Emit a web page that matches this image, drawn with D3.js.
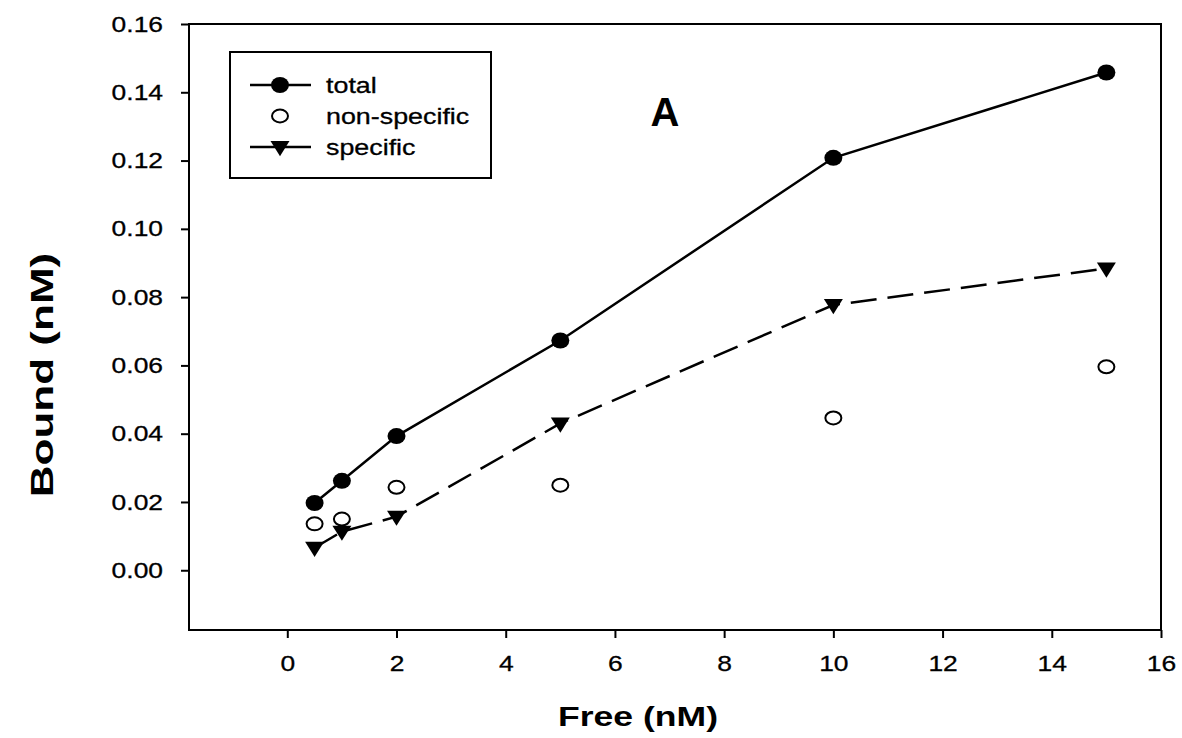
<!DOCTYPE html>
<html>
<head>
<meta charset="utf-8">
<script src="https://cdn.jsdelivr.net/npm/d3@7"></script>
<style>
  html, body { margin: 0; padding: 0; background: #fff; }
  svg text { font-family: "Liberation Sans", Arial, Helvetica, sans-serif; fill: #000; }
</style>
</head>
<body>
<svg id="chart" width="1182" height="738"></svg>
<script>
// Free ligand concentration (nM)
const freeConc = [0.5, 1, 2, 5, 10, 15];
// Bound ligand (nM) for each binding component
const totalBound = [0.0197, 0.0262, 0.0393, 0.0673, 0.1208, 0.1458];
const nonSpecificBound = [0.0136, 0.0150, 0.0243, 0.0249, 0.0446, 0.0596];
const specificBound = [0.0066, 0.0113, 0.0157, 0.0430, 0.0777, 0.0884];

const xTicks = [0, 2, 4, 6, 8, 10, 12, 14, 16];
const yTicks = [0.00, 0.02, 0.04, 0.06, 0.08, 0.10, 0.12, 0.14, 0.16];
const legendLabels = ["total", "non-specific", "specific"];
const panelLabel = "A";
const xTitle = "Free (nM)";
const yTitle = "Bound (nM)";

const svg = d3.select("#chart");
const plot = { left: 189, right: 1161, top: 24, bottom: 630 };

const x = d3.scaleLinear().domain([-1.8, 16]).range([plot.left, plot.right]);
const y = d3.scaleLinear().domain([-0.0175, 0.16]).range([plot.bottom, plot.top]);

// widen glyphs along the text direction, as the printed typeface runs wide
function widen(sel, factor) {
  sel.each(function () {
    const len = this.getComputedTextLength();
    d3.select(this).attr("textLength", len * factor).attr("lengthAdjust", "spacingAndGlyphs");
  });
}

// frame
svg.append("rect")
  .attr("x", plot.left).attr("y", plot.top)
  .attr("width", plot.right - plot.left).attr("height", plot.bottom - plot.top)
  .attr("fill", "none").attr("stroke", "#000").attr("stroke-width", 2);

// axes
const xAxis = svg.append("g")
  .attr("transform", `translate(0,${plot.bottom})`)
  .call(d3.axisBottom(x).tickValues(xTicks).tickFormat(d3.format("d")).tickSize(8).tickPadding(17));
const yAxis = svg.append("g")
  .attr("transform", `translate(${plot.left},0)`)
  .call(d3.axisLeft(y).tickValues(yTicks).tickFormat(d3.format(".2f")).tickSize(8).tickPadding(18));
[xAxis, yAxis].forEach(g => {
  g.select(".domain").remove();
  g.selectAll(".tick line").attr("stroke", "#000").attr("stroke-width", 2);
  g.selectAll(".tick text").attr("font-size", 22).attr("fill", "#000")
    .attr("stroke", "#000").attr("stroke-width", 0.3)
    .style("font-family", "'Liberation Sans', Arial, sans-serif");
  widen(g.selectAll(".tick text"), 1.2);
});

// axis titles
const xt = svg.append("text")
  .attr("x", (plot.left + plot.right) / 2 - 37).attr("y", 726)
  .attr("text-anchor", "middle").attr("font-size", 28).attr("font-weight", "bold")
  .text(xTitle);
widen(xt, 1.27);
const yt = svg.append("text")
  .attr("transform", `translate(53,375) rotate(-90)`)
  .attr("text-anchor", "middle").attr("font-size", 31).attr("font-weight", "bold")
  .text(yTitle);
widen(yt, 1.42);

// panel label
svg.append("text")
  .attr("x", 665).attr("y", 126).attr("text-anchor", "middle")
  .attr("font-size", 40).attr("font-weight", "bold").text(panelLabel);

// line generator
const line = d3.line().x(d => x(d[0])).y(d => y(d[1]));
const totalPts = freeConc.map((f, i) => [f, totalBound[i]]);
const nonSpecPts = freeConc.map((f, i) => [f, nonSpecificBound[i]]);
const specPts = freeConc.map((f, i) => [f, specificBound[i]]);

svg.append("path").datum(totalPts).attr("d", line)
  .attr("fill", "none").attr("stroke", "#000").attr("stroke-width", 2.5);
svg.append("path").datum(specPts).attr("d", line)
  .attr("fill", "none").attr("stroke", "#000").attr("stroke-width", 2.5)
  .attr("stroke-dasharray", "26,11");

// marker painters
function filledCircle(g, cx, cy) {
  g.append("ellipse").attr("cx", cx).attr("cy", cy).attr("rx", 9).attr("ry", 8).attr("fill", "#000");
}
function openCircle(g, cx, cy) {
  g.append("ellipse").attr("cx", cx).attr("cy", cy).attr("rx", 8).attr("ry", 6.5)
    .attr("fill", "#fff").attr("stroke", "#000").attr("stroke-width", 2);
}
function downTriangle(g, cx, cy) {
  const w = 9.5, h = 8;
  g.append("path").attr("d", `M${cx - w},${cy - h * 0.75}L${cx + w},${cy - h * 0.75}L${cx},${cy + h * 1.15}Z`)
    .attr("fill", "#000");
}

const marks = svg.append("g");
totalPts.forEach(d => filledCircle(marks, x(d[0]), y(d[1])));
nonSpecPts.forEach(d => openCircle(marks, x(d[0]), y(d[1])));
specPts.forEach(d => downTriangle(marks, x(d[0]), y(d[1])));

// legend
const legend = svg.append("g");
legend.append("rect").attr("x", 230).attr("y", 52).attr("width", 261).attr("height", 126)
  .attr("fill", "#fff").attr("stroke", "#000").attr("stroke-width", 2);
const rowY = [85, 116, 147];
const painters = [filledCircle, openCircle, downTriangle];
legendLabels.forEach((lab, i) => {
  if (i !== 1) {
    legend.append("line").attr("x1", 250).attr("x2", 311).attr("y1", rowY[i]).attr("y2", rowY[i])
      .attr("stroke", "#000").attr("stroke-width", 2.5);
  }
  painters[i](legend, 280, rowY[i]);
  const t = legend.append("text").attr("x", 326).attr("y", rowY[i] + 8)
    .attr("font-size", 22).attr("stroke", "#000").attr("stroke-width", 0.3).text(lab);
  widen(t, 1.22);
});
</script>
</body>
</html>
